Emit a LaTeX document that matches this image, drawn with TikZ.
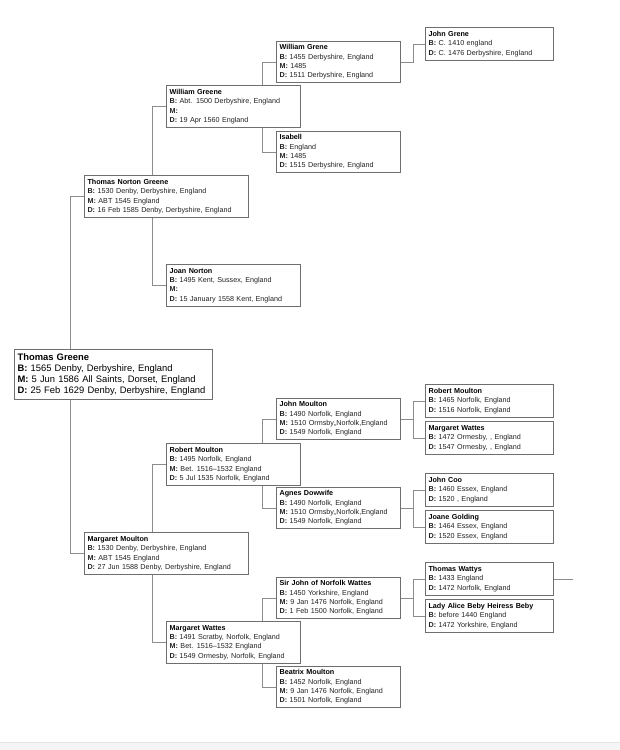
\documentclass[tikz,border=0pt]{standalone}
\usepackage{fontspec}
\setmainfont{Liberation Sans}
\usetikzlibrary{backgrounds,calc}
\definecolor{boxline}{HTML}{6E6E6E}
\definecolor{connline}{HTML}{8C8C8C}
\definecolor{txt}{HTML}{222222}
\definecolor{bandfill}{HTML}{F5F5F5}
\definecolor{bandline}{HTML}{E4E4E4}
\newcommand{\lbl}[1]{\textbf{#1}\hspace{2.5pt}}
\newcommand{\nm}[1]{{\color{black}\textbf{#1}}}
\tikzset{
  pbox/.style={draw=boxline, line width=1.1pt, fill=white, anchor=north west,
    inner xsep=3pt, inner ysep=0pt, align=left, text=txt,
    font=\fontsize{7.2}{9.3}\selectfont},
  gfive/.style={pbox, text width=122pt, minimum height=33pt},
  gfour/.style={pbox, text width=118pt, minimum height=41pt},
  gthree/.style={pbox, text width=128pt, minimum height=42pt},
  gtwo/.style={pbox, text width=158pt, minimum height=42pt},
  gone/.style={pbox, text width=192pt, minimum height=50pt, inner xsep=3pt,
    text=black, font=\fontsize{9.4}{11.2}\selectfont},
  conn/.style={draw=connline, line width=0.9pt}
}
\begin{document}
\begin{tikzpicture}[x=1pt,y=-1pt]
\useasboundingbox (0,0) rectangle (620,750);
\fill[bandfill] (0,742) rectangle (620,750);
\draw[bandline] (0,742) -- (620,742);

% generation 5
\node[gfive] (jg) at (425,27) {\nm{John Grene}\\\lbl{B:}C. 1410 england\\\lbl{D:}C. 1476 Derbyshire, England};
\node[gfive] (rmf) at (425,384) {\nm{Robert Moulton}\\\lbl{B:}1465 Norfolk, England\\\lbl{D:}1516 Norfolk, England};
\node[gfive] (mwm) at (425,421) {\nm{Margaret Wattes}\\\lbl{B:}1472 Ormesby, , England\\\lbl{D:}1547 Ormesby, , England};
\node[gfive] (jc) at (425,473) {\nm{John Coo}\\\lbl{B:}1460 Essex, England\\\lbl{D:}1520 , England};
\node[gfive] (jgo) at (425,510) {\nm{Joane Golding}\\\lbl{B:}1464 Essex, England\\\lbl{D:}1520 Essex, England};
\node[gfive] (tw) at (425,562) {\nm{Thomas Wattys}\\\lbl{B:}1433 England\\\lbl{D:}1472 Norfolk, England};
\node[gfive] (la) at (425,599) {\nm{Lady Alice Beby Heiress Beby}\\\lbl{B:}before 1440 England\\\lbl{D:}1472 Yorkshire, England};

% generation 4
\node[gfour] (wgf) at (276,41) {\nm{William Grene}\\\lbl{B:}1455 Derbyshire, England\\\lbl{M:}1485\\\lbl{D:}1511 Derbyshire, England};
\node[gfour] (is) at (276,131) {\nm{Isabell}\\\lbl{B:}England\\\lbl{M:}1485\\\lbl{D:}1515 Derbyshire, England};
\node[gfour] (jm) at (276,398) {\nm{John Moulton}\\\lbl{B:}1490 Norfolk, England\\\lbl{M:}1510 Ormsby,,Norfolk,England\\\lbl{D:}1549 Norfolk, England};
\node[gfour] (ad) at (276,487) {\nm{Agnes Dowwife}\\\lbl{B:}1490 Norfolk, England\\\lbl{M:}1510 Ormsby,,Norfolk,England\\\lbl{D:}1549 Norfolk, England};
\node[gfour] (sj) at (276,577) {\nm{Sir John of Norfolk Wattes}\\\lbl{B:}1450 Yorkshire, England\\\lbl{M:}9 Jan 1476 Norfolk, England\\\lbl{D:}1 Feb 1500 Norfolk, England};
\node[gfour] (bm) at (276,666) {\nm{Beatrix Moulton}\\\lbl{B:}1452 Norfolk, England\\\lbl{M:}9 Jan 1476 Norfolk, England\\\lbl{D:}1501 Norfolk, England};

% generation 3
\node[gthree] (wg) at (166,85) {\nm{William Greene}\\\lbl{B:}Abt. 1500 Derbyshire, England\\\lbl{M:}\\\lbl{D:}19 Apr 1560 England};
\node[gthree] (jn) at (166,264) {\nm{Joan Norton}\\\lbl{B:}1495 Kent, Sussex, England\\\lbl{M:}\\\lbl{D:}15 January 1558 Kent, England};
\node[gthree] (rm) at (166,443) {\nm{Robert Moulton}\\\lbl{B:}1495 Norfolk, England\\\lbl{M:}Bet. 1516--1532 England\\\lbl{D:}5 Jul 1535 Norfolk, England};
\node[gthree] (mw) at (166,621) {\nm{Margaret Wattes}\\\lbl{B:}1491 Scratby, Norfolk, England\\\lbl{M:}Bet. 1516--1532 England\\\lbl{D:}1549 Ormesby, Norfolk, England};

% generation 2
\node[gtwo] (tng) at (84,175) {\nm{Thomas Norton Greene}\\\lbl{B:}1530 Denby, Derbyshire, England\\\lbl{M:}ABT 1545 England\\\lbl{D:}16 Feb 1585 Denby, Derbyshire, England};
\node[gtwo] (mm) at (84,532) {\nm{Margaret Moulton}\\\lbl{B:}1530 Denby, Derbyshire, England\\\lbl{M:}ABT 1545 England\\\lbl{D:}27 Jun 1588 Denby, Derbyshire, England};

% generation 1
\node[gone] (tg) at (14,349) {\textbf{Thomas Greene}\\\textbf{B:} 1565 Denby, Derbyshire, England\\\textbf{M:} 5 Jun 1586 All Saints, Dorset, England\\\textbf{D:} 25 Feb 1629 Denby, Derbyshire, England};

\coordinate (twend) at ($(tw.east)+(19,0)$);

\begin{pgfonlayer}{background}
  % gen1 -> gen2
  \draw[conn] (tng.west) -- ++(-14,0) |- (mm.west);
  \draw[conn] (tg.east) -| ($(tng.west)+(-14,0)$);
  % gen2 -> gen3
  \draw[conn] (wg.west) -- ++(-14,0) |- (jn.west);
  \draw[conn] (tng.east) -| ($(wg.west)+(-14,0)$);
  \draw[conn] (rm.west) -- ++(-14,0) |- (mw.west);
  \draw[conn] (mm.east) -| ($(rm.west)+(-14,0)$);
  % gen3 -> gen4
  \draw[conn] (wgf.west) -- ++(-14,0) |- (is.west);
  \draw[conn] (wg.east) -| ($(wgf.west)+(-14,0)$);
  \draw[conn] (jm.west) -- ++(-14,0) |- (ad.west);
  \draw[conn] (rm.east) -| ($(jm.west)+(-14,0)$);
  \draw[conn] (sj.west) -- ++(-14,0) |- (bm.west);
  \draw[conn] (mw.east) -| ($(sj.west)+(-14,0)$);
  % gen4 -> gen5
  \draw[conn] (wgf.east) -| ($(jg.west)+(-12,0)$) -- (jg.west);
  \draw[conn] (rmf.west) -- ++(-12,0) |- (mwm.west);
  \draw[conn] (jm.east) -| ($(rmf.west)+(-12,0)$);
  \draw[conn] (jc.west) -- ++(-12,0) |- (jgo.west);
  \draw[conn] (ad.east) -| ($(jc.west)+(-12,0)$);
  \draw[conn] (tw.west) -- ++(-12,0) |- (la.west);
  \draw[conn] (sj.east) -| ($(tw.west)+(-12,0)$);
  \draw[conn] (tw.east) -- (twend);
\end{pgfonlayer}
\end{tikzpicture}
\end{document}
